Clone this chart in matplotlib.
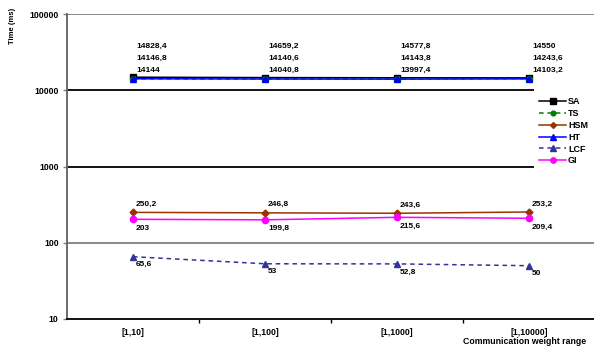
"""
Execution time vs. communication weight range (log scale)
"""

import matplotlib.pyplot as plt
from matplotlib.lines import Line2D
from matplotlib.patches import Rectangle

plt.rcParams['font.family'] = ['Liberation Sans', 'DejaVu Sans']
plt.rcParams['font.weight'] = 'bold'

ranges = ['[1,10]', '[1,100]', '[1,1000]', '[1,10000]']

sa = [14828.4, 14659.2, 14577.8, 14550]
ts = [14146.8, 14140.6, 14143.8, 14243.6]
hsm = [250.2, 246.8, 243.6, 253.2]
ht = [14144, 14040.8, 13997.4, 14103.2]
lcf = [65.6, 53, 52.8, 50]
gi = [203, 199.8, 215.6, 209.4]

y_ticks = [10, 100, 1000, 10000, 100000]


def fmt(v):
    # decimal comma, no trailing ",0"
    s = ('%.1f' % v).rstrip('0').rstrip('.')
    return s.replace('.', ',')


def main():
    fig = plt.figure(figsize=(5.94, 3.46), dpi=100)
    ax = fig.add_axes([67 / 594, 1 - 319 / 346, 528 / 594, 305 / 346])
    x = list(range(len(ranges)))

    # horizontal guide lines
    for yv, c in [(100000, '#808080'), (10000, 'black'), (1000, 'black'), (100, '#808080')]:
        ax.axhline(yv, color=c, lw=1.3, zorder=1)

    series = [
        ('SA', sa, 'black', '-', 's', 4.5),
        ('TS', ts, '#008000', (0, (3, 2.5)), 'o', 4),
        ('HSM', hsm, '#993300', '-', 'D', 3.5),
        ('HT', ht, '#0000FF', '-', '^', 5),
        ('LCF', lcf, '#333399', (0, (3, 2.5)), '^', 5),
        ('GI', gi, '#FF00FF', '-', 'o', 4.5),
    ]
    handles = []
    for name, vals, col, ls, mk, ms in series:
        ax.plot(x, vals, color=col, ls=ls, lw=1.1, marker=mk, ms=ms,
                mec=col, mfc=col, zorder=3)
        handles.append(Line2D([], [], color=col, ls=ls, lw=1.1, marker=mk,
                              ms=ms * 0.85, mec=col, mfc=col))

    # stacked labels for the three high series
    for i in x:
        for k, vals in enumerate([sa, ts, ht]):
            ax.annotate(fmt(vals[i]), (i, sa[i]), xytext=(3, 31 - 12 * k),
                        textcoords='offset pixels', ha='left', va='center',
                        fontsize=6, fontweight='bold')
        ax.annotate(fmt(hsm[i]), (i, hsm[i]), xytext=(3, 8),
                    textcoords='offset pixels', ha='left', va='center',
                    fontsize=6, fontweight='bold')
        ax.annotate(fmt(gi[i]), (i, gi[i]), xytext=(3, -9),
                    textcoords='offset pixels', ha='left', va='center',
                    fontsize=6, fontweight='bold')
        ax.annotate(fmt(lcf[i]), (i, lcf[i]), xytext=(3, -8),
                    textcoords='offset pixels', ha='left', va='center',
                    fontsize=6, fontweight='bold')

    ax.set_yscale('log')
    ax.set_ylim(10, 100000)
    ax.set_yticks(y_ticks)
    ax.set_yticklabels([str(v) for v in y_ticks])
    ax.minorticks_off()
    ax.set_xlim(-0.5, 3.5)
    ax.set_xticks(x)
    ax.set_xticklabels(ranges)
    ax.set_xticks([0.5, 1.5, 2.5], minor=True)
    ax.tick_params(axis='x', which='major', length=0, pad=6.5, labelsize=6.3)
    ax.tick_params(axis='x', which='minor', length=3, width=1, color='black')
    ax.tick_params(axis='y', length=3, width=1, color='#808080', pad=3,
                   labelsize=6.3)

    for s in ['top', 'right']:
        ax.spines[s].set_visible(False)
    ax.spines['left'].set_color('#606060')
    ax.spines['left'].set_linewidth(1.3)
    ax.spines['bottom'].set_color('black')
    ax.spines['bottom'].set_linewidth(1.3)

    # white backing behind the legend
    fig.patches.append(Rectangle((534 / 594, 1 - 170 / 346), 60 / 594, 83 / 346,
                                 transform=fig.transFigure, facecolor='white',
                                 edgecolor='none', zorder=2))
    leg = fig.legend(handles, [s[0] for s in series], loc='upper left',
                     bbox_to_anchor=(539 / 594, 1 - 97 / 346), frameon=False,
                     fontsize=6.5, handlelength=3.0, handletextpad=0.2,
                     labelspacing=0.32, borderpad=0, borderaxespad=0)
    leg.set_zorder(6)

    fig.text(586 / 594, 1 - 341 / 346, 'Communication weight range',
             ha='right', va='center', fontsize=6.3, fontweight='bold')
    fig.text(12 / 594, 1 - 26 / 346, 'Time (ms)', rotation=90, ha='center',
             va='center', fontsize=5.5, fontweight='bold')

    fig.savefig('out.png', dpi=100)


if __name__ == "__main__":
    main()
